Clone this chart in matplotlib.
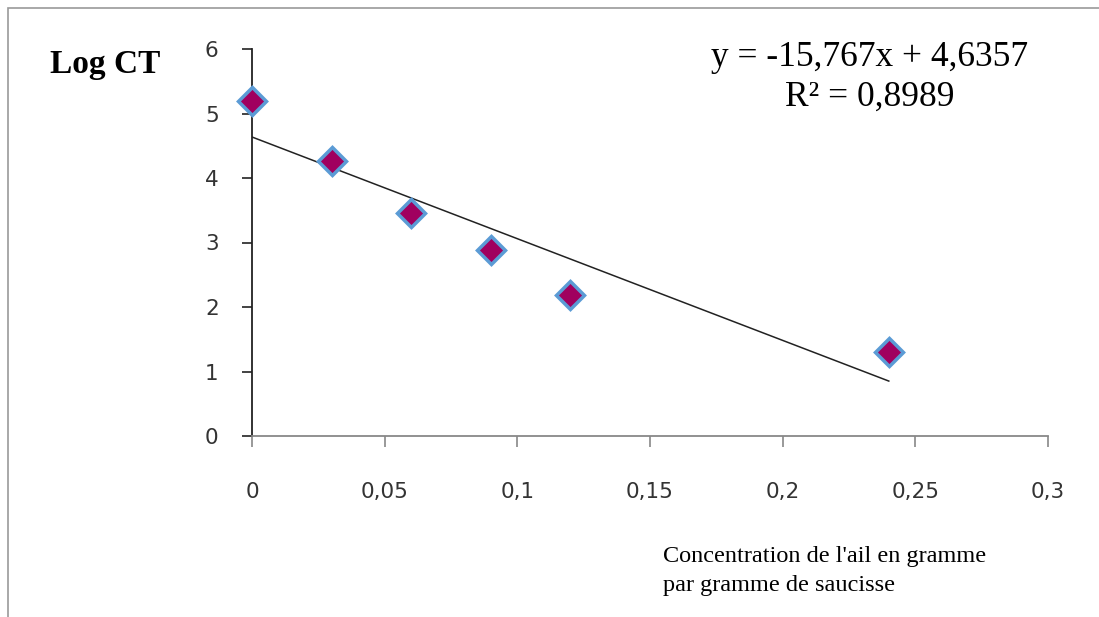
import numpy as np
import matplotlib
matplotlib.use('Agg')
import matplotlib.pyplot as plt
from matplotlib.patches import Rectangle

# Data
concentration = [0.0, 0.03, 0.06, 0.09, 0.12, 0.24]
log_ct = [5.19, 4.26, 3.46, 2.89, 2.18, 1.30]
slope = -15.767
intercept = 4.6357
x_ticks = [0, 0.05, 0.1, 0.15, 0.2, 0.25, 0.3]
x_ticklabels = ['0', '0,05', '0,1', '0,15', '0,2', '0,25', '0,3']
y_ticks = [0, 1, 2, 3, 4, 5, 6]

fig = plt.figure(figsize=(10.99, 6.17), dpi=100)
ax = fig.add_axes([252 / 1099, 1 - 436 / 617, (1048 - 252) / 1099, (436 - 49) / 617])

# outer frame (cut by the image on right and bottom)
fig.patches.append(Rectangle((8 / 1099, -0.2), 2.0, 1.2 - 8 / 617,
                             transform=fig.transFigure, fill=False,
                             edgecolor='#999999', linewidth=1.2))

trend_x = np.array([concentration[0], concentration[-1]])
ax.plot(trend_x, slope * trend_x + intercept, color='#222222', linewidth=1.1)
ax.plot(concentration, log_ct, linestyle='none', marker='D', markersize=14,
        markerfacecolor='#a0005f', markeredgecolor='#5b9bd5',
        markeredgewidth=2.5, clip_on=False, zorder=3)

ax.set_xlim(0, 0.3)
ax.set_ylim(0, 6)
ax.set_xticks(x_ticks)
ax.set_xticklabels(x_ticklabels)
ax.set_yticks(y_ticks)

for side in ['top', 'right']:
    ax.spines[side].set_visible(False)
ax.spines['left'].set_color('#222222')
ax.spines['left'].set_linewidth(1.3)
ax.spines['bottom'].set_color('#888888')
ax.spines['bottom'].set_linewidth(1.3)

ax.tick_params(axis='x', direction='out', length=8, width=1.2, color='#888888',
               pad=25, labelsize=15.5, labelcolor='#333333')
ax.tick_params(axis='y', direction='out', length=7, width=1.2, color='#222222',
               pad=17, labelsize=15.5, labelcolor='#333333')

serif = 'Liberation Serif'
fig.text(50 / 1099, 1 - 65 / 617, 'Log CT', fontfamily=serif, fontweight='bold',
         fontsize=24, ha='left', va='center')
fig.text(870 / 1099, 1 - 57 / 617, 'y = -15,767x + 4,6357', fontfamily=serif,
         fontsize=25.5, ha='center', va='center')
fig.text(870 / 1099, 1 - 97 / 617, 'R² = 0,8989', fontfamily=serif,
         fontsize=25.5, ha='center', va='center')
fig.text(663 / 1099, 1 - 571 / 617,
         "Concentration de l'ail en gramme\npar gramme de saucisse",
         fontfamily=serif, fontsize=17.5, ha='left', va='center', linespacing=1.45)

fig.savefig('out.png', dpi=100)
